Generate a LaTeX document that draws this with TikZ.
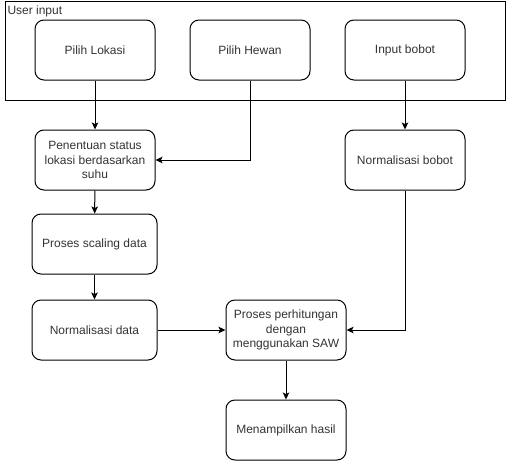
\documentclass[tikz,border=0pt]{standalone}
\usepackage{fontspec}
\setmainfont{Liberation Sans}
\usetikzlibrary{arrows.meta}
\begin{document}
\begin{tikzpicture}[x=1pt,y=-1pt,line width=1pt,
  proc/.style={draw, rounded corners=9pt, minimum width=120pt, minimum height=60pt,
    align=center, text=black!80, font=\fontsize{12}{14.4}\selectfont},
  flow/.style={-{Stealth[length=7pt,width=6.5pt,inset=1.5pt]}}]
\useasboundingbox (0,0) rectangle (506,461);
\node[draw, minimum width=500pt, minimum height=99pt, inner sep=0pt] (userbox) at (255,50.5){};
\node[anchor=north west, inner sep=0pt, text=black!80, font=\fontsize{12}{14.4}\selectfont] (userlbl) at (7,5){User input};
\node[proc] (lokasi) at (95,50){Pilih Lokasi};
\node[proc] (hewan) at (250,50){Pilih Hewan};
\node[proc] (bobot) at (405,50){Input bobot};
\node[proc] (status) at (95,160){Penentuan status\\lokasi berdasarkan\\suhu};
\draw[flow](lokasi) -- (status);
\draw[flow](hewan.south) |- (status.east);
\node[proc] (normbobot) at (405,160){Normalisasi bobot};
\draw[flow](bobot) -- (normbobot);
\node[proc, minimum width=125pt] (scaling) at (94.5,244){Proses scaling data};
\draw[flow](status) -- (scaling);
\node[proc, minimum width=125pt] (normdata) at (94.5,330){Normalisasi data};
\draw[flow](scaling) -- (normdata);
\node[proc] (saw) at (286,330){Proses perhitungan\\dengan\\menggunakan SAW};
\draw[flow](normdata) -- (saw);
\draw[flow](normbobot.south) |- (saw.east);
\node[proc] (hasil) at (286,430){Menampilkan hasil};
\draw[flow](saw) -- (hasil);
\end{tikzpicture}
\end{document}
